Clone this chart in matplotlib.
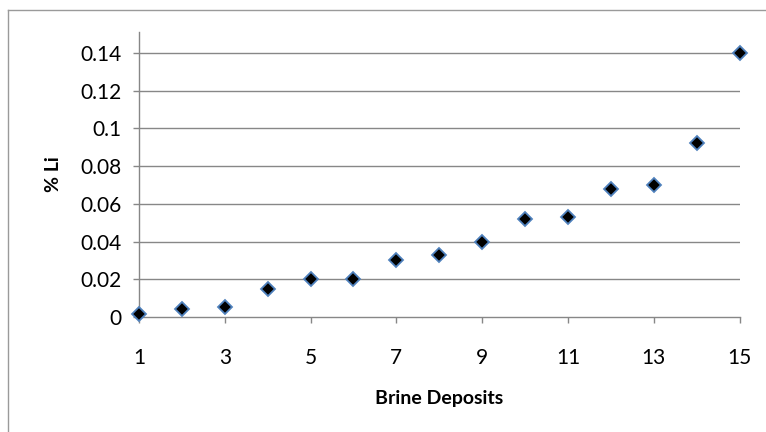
import matplotlib
matplotlib.use("Agg")
import matplotlib.pyplot as plt
from matplotlib.lines import Line2D

# Lithium content of brine deposits, ranked
deposits = list(range(1, 16))
li_pct = [0.0015, 0.0045, 0.0055, 0.015, 0.020, 0.020, 0.030, 0.033,
          0.040, 0.052, 0.053, 0.068, 0.070, 0.092, 0.140]
x_ticks = [1, 3, 5, 7, 9, 11, 13, 15]
y_ticks = [0, 0.02, 0.04, 0.06, 0.08, 0.1, 0.12, 0.14]
y_tick_labels = ["0", "0.02", "0.04", "0.06", "0.08", "0.1", "0.12", "0.14"]

W, H, DPI = 766, 432, 100
fig = plt.figure(figsize=(W / DPI, H / DPI), dpi=DPI)
fig.patch.set_facecolor("white")

# chart-area outline
border = "#9a9a9a"
fig.add_artist(Line2D([7.5 / W, 7.5 / W], [-0.1, 1 - 9.5 / H],
                      transform=fig.transFigure, color=border, lw=1.0))
fig.add_artist(Line2D([7.5 / W, 1.1], [1 - 9.5 / H, 1 - 9.5 / H],
                      transform=fig.transFigure, color=border, lw=1.0))

left, right = 139 / W, 739.5 / W
bottom, top = (H - 317) / H, (H - 32) / H
ax = fig.add_axes([left, bottom, right - left, top - bottom])

grey = "#878787"
ax.set_xlim(1, 15)
ax.set_ylim(0, 0.151)
for v in y_ticks[1:]:
    ax.axhline(v, color=grey, lw=1.0, zorder=1)

for s in ("top", "right"):
    ax.spines[s].set_visible(False)
for s in ("left", "bottom"):
    ax.spines[s].set_color(grey)
    ax.spines[s].set_linewidth(1.0)

ax.set_xticks(x_ticks)
ax.set_xticklabels([str(t) for t in x_ticks])
ax.set_yticks(y_ticks)
ax.set_yticklabels(y_tick_labels)
ax.tick_params(axis="both", direction="out", length=4.5, width=1.0,
               color=grey, labelsize=15, labelcolor="black")
ax.tick_params(axis="x", pad=18)
ax.tick_params(axis="y", pad=8)
for lab in ax.get_xticklabels() + ax.get_yticklabels():
    lab.set_family("Lato")

ax.plot(deposits, li_pct, linestyle="none", marker="D", markersize=7.2,
        markerfacecolor="black", markeredgecolor="#4F81BD",
        markeredgewidth=1.3, clip_on=False, zorder=3)

ax.set_xlabel("Brine Deposits", fontsize=14, fontweight="bold",
              family="Lato", labelpad=16)
ax.set_ylabel("% Li", fontsize=14, fontweight="bold", family="Lato",
              labelpad=13)

fig.savefig("out.png", dpi=DPI)
